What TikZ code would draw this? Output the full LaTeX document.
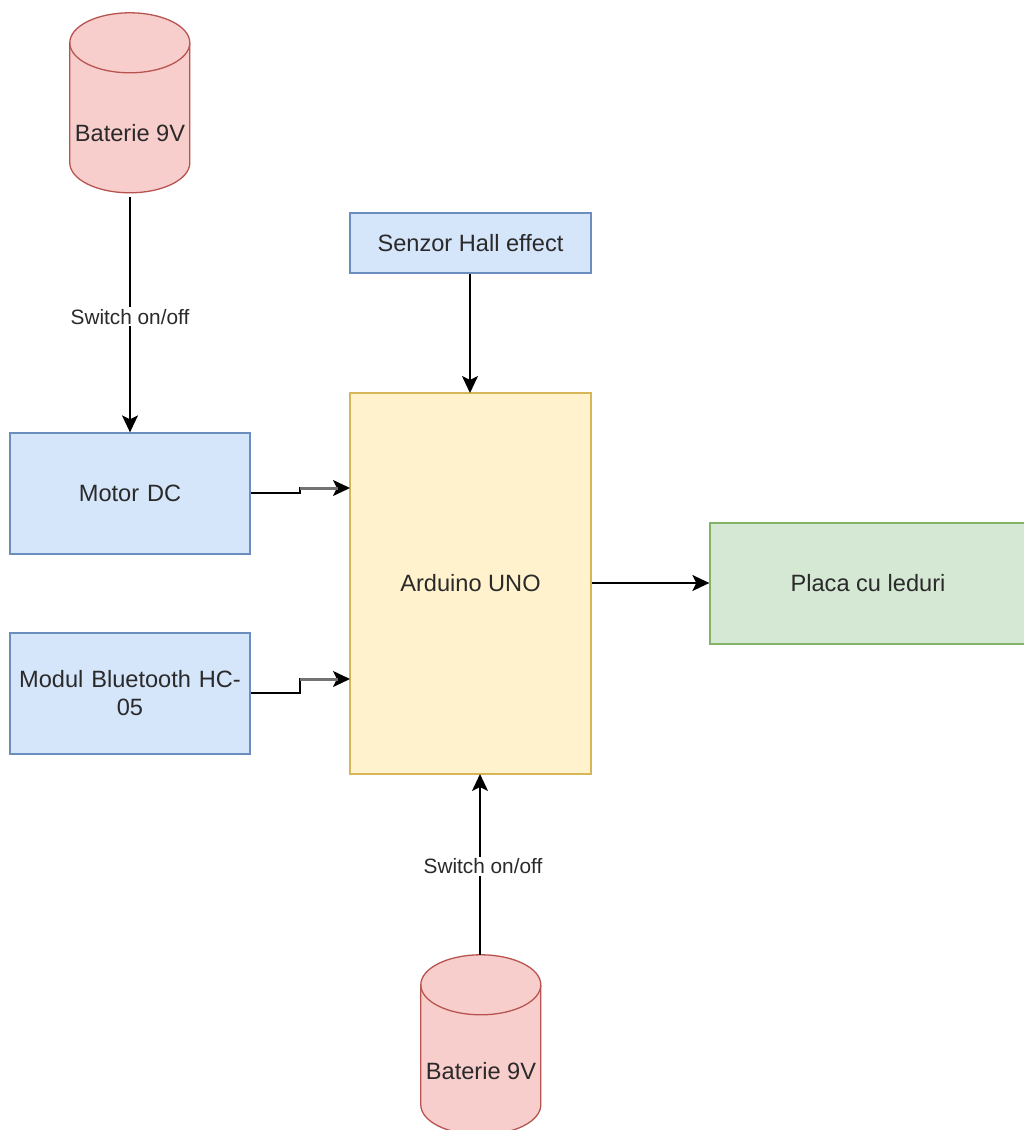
\documentclass[tikz,border=0pt]{standalone}
\usepackage{fontspec}
\setmainfont{Liberation Sans}
\usetikzlibrary{arrows.meta}
\definecolor{bluefill}{HTML}{D5E5FA}
\definecolor{bluedraw}{HTML}{6C8EBF}
\definecolor{yelfill}{HTML}{FFF2CC}
\definecolor{yeldraw}{HTML}{D6B656}
\definecolor{grnfill}{HTML}{D5E8D4}
\definecolor{grndraw}{HTML}{82B366}
\definecolor{redfill}{HTML}{F8CECC}
\definecolor{reddraw}{HTML}{B85450}
\definecolor{txt}{HTML}{2A2A2A}
\tikzset{
  x=1pt,y=-1pt,
  boxbase/.style={rectangle,line width=1.3pt,inner sep=0pt,text=txt,align=center,font=\fontsize{23.6}{28}\selectfont},
  bluebox/.style={boxbase,draw=bluedraw,fill=bluefill,text width=240pt,minimum width=240pt},
  yelbox/.style={boxbase,draw=yeldraw,fill=yelfill},
  grnbox/.style={boxbase,draw=grndraw,fill=grnfill},
  cylarea/.style={rectangle,inner sep=0pt,minimum width=120pt,minimum height=180pt},
  cylshape/.style={draw=reddraw,fill=redfill,line width=1.3pt},
  cyltext/.style={inner sep=0pt,text=txt,font=\fontsize{23.6}{28}\selectfont},
  conn/.style={draw=black,line width=1.8pt,-{Stealth[length=17pt,width=16pt,inset=4pt]}},
  thickpart/.style={draw=black!55,line width=3pt},
  edgelabel/.style={fill=white,inner sep=2pt,text=txt,font=\fontsize{20.8}{24}\selectfont},
}
\newcommand{\batterydraw}[1]{%
  \path[cylshape] (#1.north west) ++(0,30)
    arc[start angle=180,end angle=0,x radius=60pt,y radius=30pt]
    -- ++(0,120)
    arc[start angle=0,end angle=-180,x radius=60pt,y radius=30pt] -- cycle;
  \draw[draw=reddraw,line width=1.3pt] (#1.north west) ++(0,30)
    arc[start angle=180,end angle=360,x radius=60pt,y radius=30pt];
}
\begin{document}
\begin{tikzpicture}
\useasboundingbox (0,0) rectangle (1024,1130);
\clip (0,0) rectangle (1024,1130);
\fill[white] (0,0) rectangle (1024,1130);

\node[cylarea] (bat1) at (130,103) {};
\batterydraw{bat1}
\node[cyltext] (bat1t) at (130,133) {Baterie 9V};

\node[cylarea] (bat2) at (481,1045) {};
\batterydraw{bat2}
\node[cyltext] (bat2t) at (481,1071) {Baterie 9V};

\node[boxbase,draw=bluedraw,fill=bluefill,minimum width=241pt,minimum height=60pt] (senzor) at (470.5,243) {Senzor Hall effect};
\node[yelbox,minimum width=241pt,minimum height=381pt] (ard) at (470.5,583.5) {Arduino UNO};
\node[bluebox,minimum height=121pt] (motor) at (130,493.5) {Motor DC};
\node[bluebox,minimum height=121pt] (modul) at (130,693.5) {Modul Bluetooth HC-\\05};
\node[grnbox,minimum width=316pt,minimum height=121pt] (placa) at (868,583.5) {Placa cu leduri};

\coordinate (b1out) at (130,197);
\coordinate (b2out) at (480,955);
\coordinate (ardtop) at (470,393);
\coordinate (ardbot) at (480,774);
\coordinate (ardm) at (350,488);
\coordinate (ardb) at (350,679);
\coordinate (stepm) at (300,488);
\coordinate (stepb) at (300,679);
\coordinate (thickm) at (338,488);
\coordinate (thickb) at (338,679);

\draw[conn] (b1out) -- node[edgelabel,pos=0.504,yshift=-1pt] (sw1) {Switch on/off} (motor.north);
\draw[conn] ([xshift=-0.5pt]senzor.south) -- (ardtop);
\draw[conn] ([yshift=0.5pt]motor.east) -- ([yshift=0.5pt]motor.east -| stepm) -- (stepm) -- (ardm);
\draw[thickpart] (stepm) -- (thickm);
\draw[conn] ([yshift=0.5pt]modul.east) -- ([yshift=0.5pt]modul.east -| stepb) -- (stepb) -- (ardb);
\draw[thickpart] (stepb) -- (thickb);
\draw[conn] ([yshift=0.5pt]ard.east) -- ([yshift=0.5pt]placa.west);
\draw[conn] (b2out) -- node[edgelabel,pos=0.49,xshift=3pt] (sw2) {Switch on/off} (ardbot);
\end{tikzpicture}
\end{document}
